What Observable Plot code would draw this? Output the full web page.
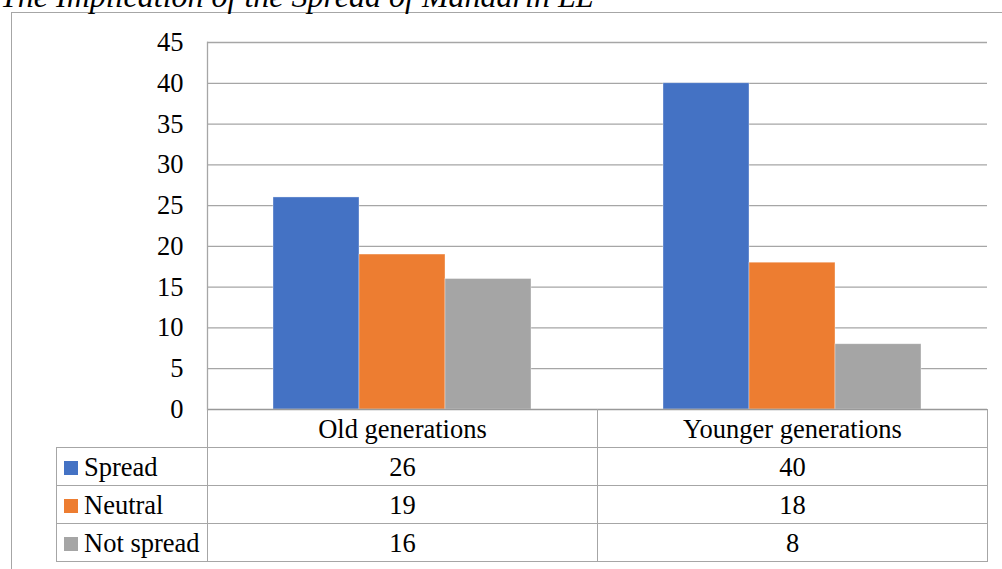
<!DOCTYPE html>
<html>
<head>
<meta charset="utf-8">
<script src="https://cdn.jsdelivr.net/npm/d3@7"></script>
<script src="https://cdn.jsdelivr.net/npm/@observablehq/plot@0.6"></script>
<style>
  body { margin: 0; background: #fff; }
  #wrap { position: relative; width: 1002px; height: 569px; overflow: hidden; font-family: "Liberation Serif", "Times New Roman", serif; color: #000; }
  #title { position: absolute; left: 0px; top: -20px; font-size: 32px; line-height: 32px; font-style: italic; white-space: nowrap; }
  #frame { position: absolute; left: 11px; top: 12px; width: 1200px; height: 800px; border-left: 1px solid #a6a6a6; border-top: 1px solid #a6a6a6; }
  #chart { position: absolute; left: 0; top: 0; }
  #table { position: absolute; left: 56px; top: 409px; border-collapse: collapse; font-size: 26.5px; table-layout: fixed; }
  #table td { border: 1.3px solid #a6a6a6; height: 37px; padding: 0; text-align: center; line-height: 26px; white-space: nowrap; }
  #table td.lab { text-align: left; padding-left: 7px; }
  #table td.blank { border: none; border-right: 1.3px solid #a6a6a6; }
  #table tr.head td { border-top-color: #999; }
  .sw { display: inline-block; width: 14px; height: 14px; margin-right: 6px; vertical-align: 1px; }
</style>
</head>
<body>
<div id="wrap">
  <div id="frame"></div>
  <div id="title">The Implication of the Spread of Mandarin LL</div>
  <div id="chart"></div>
  <table id="table"></table>
</div>
<script>
const categories = ["Old generations", "Younger generations"];
const seriesNames = ["Spread", "Neutral", "Not spread"];
const spreadValues = [26, 40];
const neutralValues = [19, 18];
const notSpreadValues = [16, 8];
const seriesColors = ["#4472C4", "#ED7D31", "#A5A5A5"];
const yTicks = [0, 5, 10, 15, 20, 25, 30, 35, 40, 45];

const seriesValues = [spreadValues, neutralValues, notSpreadValues];
const data = [];
seriesNames.forEach((s, si) => {
  categories.forEach((c, ci) => {
    data.push({category: c, series: s, value: seriesValues[si][ci]});
  });
});

const chart = Plot.plot({
  width: 1002,
  height: 411,
  marginLeft: 207,
  marginRight: 15,
  marginTop: 42,
  marginBottom: 2,
  style: {fontFamily: "'Liberation Serif', 'Times New Roman', serif", fontSize: "26.5px", color: "#000", background: "transparent", overflow: "visible"},
  fx: {domain: categories, padding: 0, axis: null},
  x: {domain: seriesNames, paddingInner: 0, paddingOuter: 0.75, axis: null},
  y: {domain: [0, 45], axis: null},
  color: {domain: seriesNames, range: seriesColors},
  marks: [
    Plot.ruleY(yTicks.filter(d => d > 0), {stroke: "#a6a6a6", strokeWidth: 1.3}),
    Plot.barY(data, {fx: "category", x: "series", y: "value", fill: "series", stroke: "#ffffff", strokeOpacity: 0.5, strokeWidth: 0.7}),
    Plot.ruleY([0], {stroke: "#999", strokeWidth: 1.3}),
    Plot.axisY({ticks: yTicks, tickSize: 0, tickPadding: 24, label: null, tickFormat: d => String(d), fill: "#000", fontSize: 26.5}),
    Plot.frame({anchor: "left", stroke: "#a6a6a6", strokeWidth: 1.3, strokeOpacity: 1, facet: "super"})
  ]
});
document.getElementById("chart").appendChild(chart);

// data table below the chart
const table = d3.select("#table");
const colg = table.append("colgroup");
colg.append("col").style("width", "151px");
categories.forEach(() => colg.append("col").style("width", "390px"));
const head = table.append("tr").attr("class", "head");
head.append("td").attr("class", "blank");
categories.forEach(c => head.append("td").text(c));
seriesNames.forEach((s, si) => {
  const tr = table.append("tr");
  const lab = tr.append("td").attr("class", "lab");
  lab.append("span").attr("class", "sw").style("background", seriesColors[si]);
  lab.append("span").text(s);
  seriesValues[si].forEach(v => tr.append("td").text(v));
});
</script>
</body>
</html>
